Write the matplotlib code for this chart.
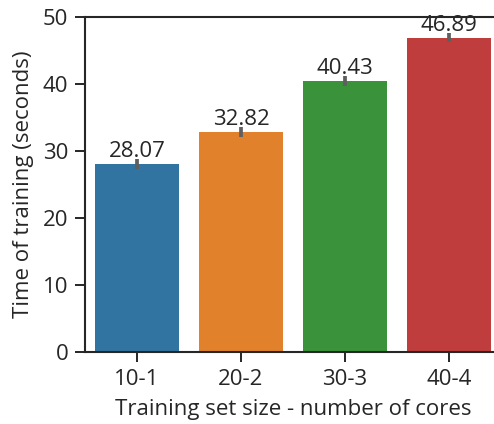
import matplotlib.pyplot as plt

# data
categories = ['10-1', '20-2', '30-3', '40-4']
mean_time = [28.07, 32.82, 40.43, 46.89]
err_time = [0.8, 0.7, 0.7, 0.7]
colors = ['#3274a1', '#e1812c', '#3a923a', '#c03d3e']

plt.rcParams['font.family'] = ['Open Sans', 'DejaVu Sans']
plt.rcParams['font.size'] = 16

fig = plt.figure(figsize=(4.94, 4.24), dpi=100)
ax = fig.add_axes([0.172, 0.170, 0.842, 0.790])

x = range(len(categories))
ax.bar(x, mean_time, width=0.8, color=colors, yerr=err_time,
       error_kw=dict(ecolor='#5f5f5f', elinewidth=2.7, capsize=0))

for i, v in enumerate(mean_time):
    ax.text(i, v + 1.0, f'{v:.2f}', ha='center', va='baseline', color='#262626')

ax.set_xlim(-0.5, 3.5)
ax.set_ylim(0, 50)
ax.set_xticks(list(x))
ax.set_xticklabels(categories)
ax.set_yticks([0, 10, 20, 30, 40, 50])
ax.set_xlabel('Training set size - number of cores', color='#262626', labelpad=7)
ax.set_ylabel('Time of training (seconds)', color='#262626', labelpad=6)

ax.spines['right'].set_visible(False)
for s in ['left', 'bottom', 'top']:
    ax.spines[s].set_linewidth(1.5)
    ax.spines[s].set_color('#262626')
ax.tick_params(length=7, width=1.4, color='#262626', labelcolor='#262626', pad=5)

fig.savefig('out.png', dpi=100)
